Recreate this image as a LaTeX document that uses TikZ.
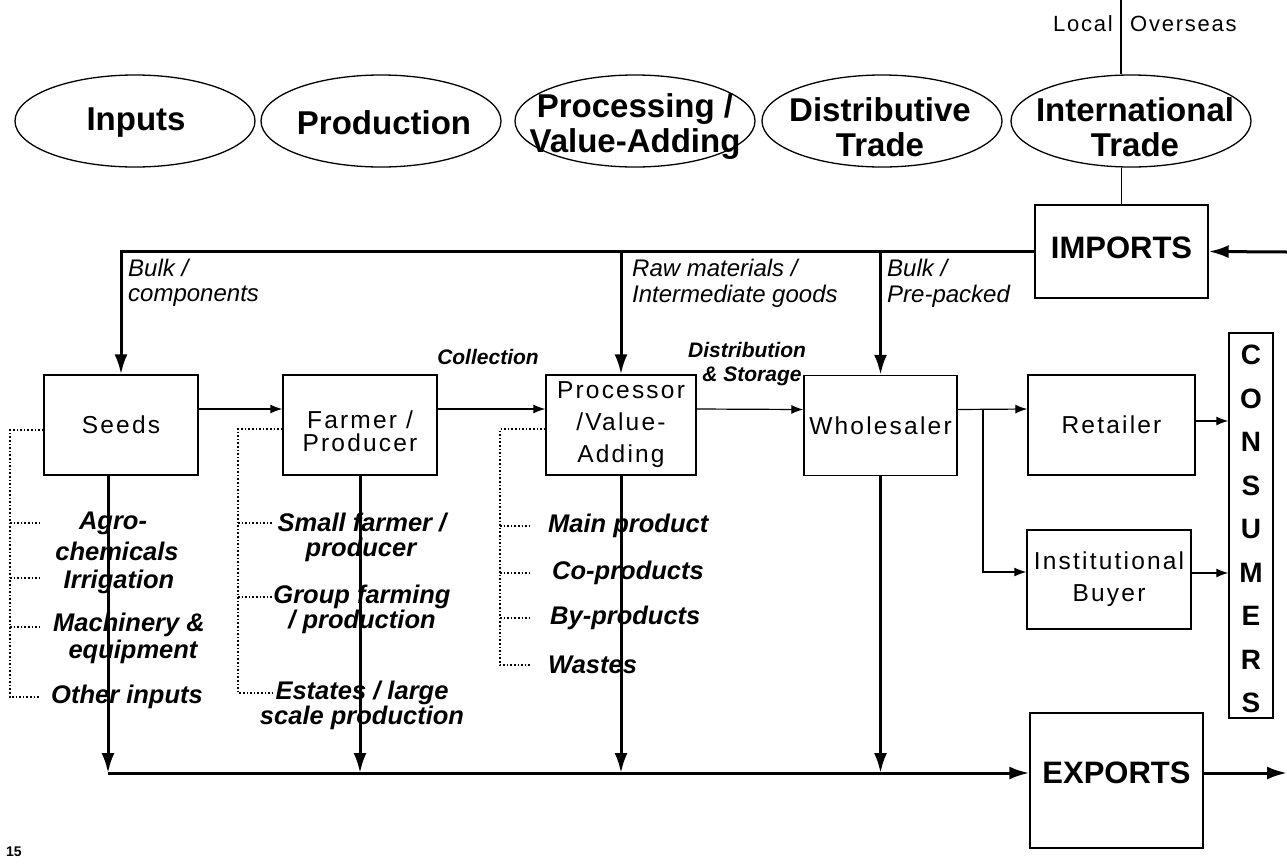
\documentclass[tikz,border=0pt]{standalone}
\usepackage{fontspec}
\setmainfont{Liberation Sans}
\usetikzlibrary{shapes.geometric,arrows.meta}
\begin{document}
\begin{tikzpicture}[x=1pt,y=-1pt,
  ell/.style={draw, ellipse, line width=1.3pt, minimum width=240pt, minimum height=92pt, inner sep=0pt},
  elltext/.style={font=\fontsize{33}{35}\selectfont\bfseries, align=center, inner sep=0pt},
  box/.style={draw, line width=1.4pt, inner sep=0pt, align=center,
    font=\fontsize{24.5}{32}\selectfont\addfontfeature{LetterSpace=9}},
  bigtext/.style={font=\fontsize{31}{35}\selectfont\bfseries, inner sep=0pt},
  lab/.style={font=\fontsize{25.5}{27}\selectfont\bfseries\itshape, inner sep=0pt},
  toplab/.style={font=\fontsize{24}{28}\selectfont\itshape, inner sep=0pt, anchor=west},
  flowlab/.style={font=\fontsize{21}{24}\selectfont\bfseries\itshape, inner sep=0pt},
  smalltext/.style={font=\fontsize{22}{24}\selectfont\addfontfeature{LetterSpace=8}, inner sep=0pt},
  bigline/.style={line width=3pt},
  bigarrow/.style={line width=3pt, -{Latex[length=20pt,width=13pt]}},
  thinarrow/.style={line width=1.2pt, -{Latex[length=12pt,width=9pt]}},
  dots/.style={line width=1.6pt, dash pattern=on 1.6pt off 2pt},
]
\useasboundingbox (0,0) rectangle (1287,863);

% ---------- top row of stages ----------
\node[ell] (e1) at (135,121) {};
\node[ell] (e2) at (381,121) {};
\node[ell] (e3) at (635,121) {};
\node[ell] (e4) at (882,121) {};
\node[ell] (e5) at (1131,121) {};
\node[elltext] (t1) at (136,123) {Inputs};
\node[elltext] (t2) at (384,123) {Production};
\node[elltext] (t3) at (635,127) {Processing /\\Value-Adding};
\node[elltext] (t4) at (880,127) {Distributive\\Trade};
\node[elltext] (t5) at (1135,127) {International\\Trade};

% Local | Overseas
\coordinate (lotop) at (1121,0);
\draw[line width=1.5pt] (lotop) -- (lotop |- e5.north);
\node[smalltext, anchor=east] (local) at (1113,24) {Local};
\node[smalltext, anchor=west] (overseas) at (1130,24) {Overseas};

% ---------- boxes ----------
\node[box, minimum width=173pt, minimum height=93pt] (imports) at (1121.5,251.5) {};
\node[bigtext] (impt) at (1121.5,248) {IMPORTS};
\node[box, minimum width=173pt, minimum height=135pt] (exports) at (1116.5,780.5) {};
\node[bigtext] (expt) at (1116.5,773) {EXPORTS};

\node[box, minimum width=154pt, minimum height=100pt] (seeds) at (121,425) {Seeds};
\node[box, minimum width=154pt, minimum height=100pt] (farmer) at (360,425) {};
\node[box, draw=none, font=\fontsize{24.5}{23}\selectfont\addfontfeature{LetterSpace=9}] (farmt) at (360,431) {Farmer /\\Producer};
\node[box, minimum width=150pt, minimum height=100pt] (proc) at (621,425) {Processor\\/Value-\\Adding};
\node[box, minimum width=153pt, minimum height=100pt] (whole) at (880.5,425.5) {Wholesaler};
\node[box, minimum width=167pt, minimum height=100pt] (retail) at (1111.5,425) {Retailer};
\node[box, minimum width=164pt, minimum height=99pt] (inst) at (1109,579.5) {Institutional\\Buyer};
\node[box, minimum width=44pt, minimum height=385pt] (cons) at (1251,525.5) {};
\node[font=\fontsize{28}{43.5}\selectfont\bfseries, align=center, inner sep=0pt] (const) at (1251,529) {C\\O\\N\\S\\U\\M\\E\\R\\S};

% ---------- imports distribution ----------
\coordinate (impin) at (1287,252);
\draw[bigarrow] (impin) -- (imports.east);
\draw[bigarrow] (imports.west) -| (seeds.north);
\draw[bigarrow] (proc.north |- imports.west) -- (proc.north);
\draw[bigarrow] (whole.north |- imports.west) -- (whole.north);
\draw[line width=1.5pt] (imports.north |- e5.south) -- (imports.north);

\node[toplab] (l1) at (128,268) {Bulk /};
\node[toplab] (l2) at (128,296) {components};
\node[toplab] (l3) at (632,268) {Raw materials /};
\node[toplab] (l4) at (632,296) {Intermediate goods};
\node[toplab] (l5) at (887,268) {Bulk /};
\node[toplab] (l6) at (887,296) {Pre-packed};

% ---------- chain ----------
\draw[thinarrow] ([yshift=16pt]seeds.east) -- ([yshift=16pt]farmer.west);
\draw[thinarrow] ([yshift=16pt]farmer.east) -- ([yshift=16pt]proc.west);
\draw[thinarrow] ([yshift=16pt]proc.east) -- ([yshift=16pt]whole.east -| whole.west);
\draw[thinarrow] ([yshift=16pt]whole.east) -- ([yshift=16pt]retail.west);
\coordinate (split) at (983,409);
\draw[thinarrow] (split) |- ([yshift=7.5pt]inst.west);
\draw[thinarrow] ([yshift=4pt]retail.east) -- ([yshift=4pt]retail.east -| cons.west);
\draw[thinarrow] ([yshift=6.5pt]inst.east) -- ([yshift=6.5pt]inst.east -| cons.west);

\node[flowlab] (coll) at (488,357) {Collection};
\node[flowlab] (dist) at (747,350) {Distribution};
\node[flowlab] (stor) at (752,376) {\& Storage};

% ---------- exports ----------
\coordinate (bl) at (108,773);
\coordinate (exout) at (1287,773);
\draw[bigarrow] (bl) -- (bl -| exports.west);
\draw[bigarrow] (seeds.south -| bl) -- (bl);
\draw[bigarrow] (farmer.south) -- (farmer.south |- bl);
\draw[bigarrow] (proc.south) -- (proc.south |- bl);
\draw[bigarrow] (whole.south) -- (whole.south |- bl);
\draw[bigarrow] (exports.east |- bl) -- (exout);

% ---------- dotted sub-lists ----------
\coordinate (s0) at (10,430);
\coordinate (s1) at (10,697);
\draw[dots] ([yshift=-5pt]seeds.west) -- (s0) -- (s1) -- (40,697);
\foreach \yy in {523,578,627} \draw[dots] (10,\yy) -- (40,\yy);
\node[lab] (a1) at (113,523) {Agro-};
\node[lab] (a2) at (117,551) {chemicals};
\node[lab] (a3) at (119,582) {Irrigation};
\node[lab] (a4) at (129,625) {Machinery \&};
\node[lab] (a5) at (133,652) {equipment};
\node[lab] (a6) at (127,697) {Other inputs};

\coordinate (f0) at (238,429);
\coordinate (f1) at (238,693);
\draw[dots] ([yshift=-4pt]farmer.west) -- (f0) -- (f1) -- (272,693);
\foreach \yy in {523,597} \draw[dots] (238,\yy) -- (272,\yy);
\node[lab] (b1) at (362,523) {Small farmer /};
\node[lab] (b2) at (361,550) {producer};
\node[lab] (b3) at (362,597) {Group farming};
\node[lab] (b4) at (362,622) {/ production};
\node[lab] (b5) at (362,693) {Estates / large};
\node[lab] (b6) at (362,718) {scale production};

\coordinate (p0) at (500,429);
\coordinate (p1) at (500,665);
\draw[dots] ([yshift=-4pt]proc.west) -- (p0) -- (p1) -- (530,665);
\foreach \yy in {526,573,618} \draw[dots] (500,\yy) -- (530,\yy);
\node[lab, anchor=west] (c1) at (548,526) {Main product};
\node[lab, anchor=west] (c2) at (552,573) {Co-products};
\node[lab, anchor=west] (c3) at (550,618) {By-products};
\node[lab, anchor=west] (c4) at (548,665) {Wastes};

\node[font=\fontsize{14}{14}\selectfont\bfseries, inner sep=0pt] (pg) at (14,852) {15};
\end{tikzpicture}
\end{document}
